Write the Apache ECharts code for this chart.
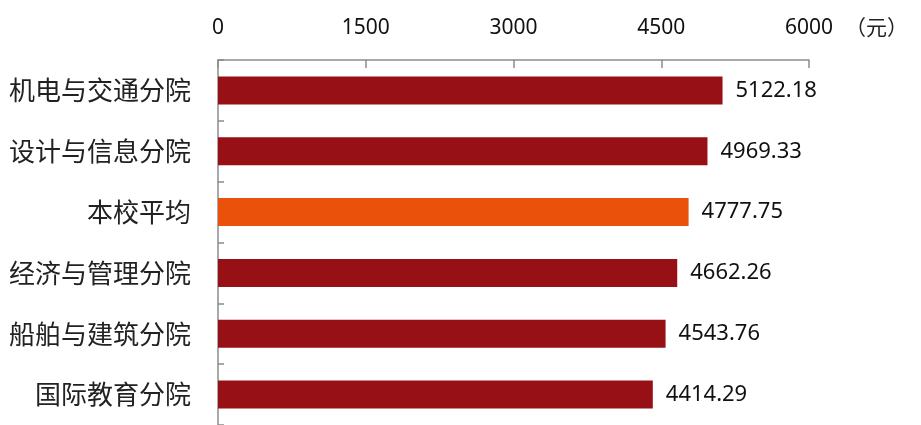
<!DOCTYPE html>
<html>
<head>
<meta charset="utf-8">
<script src="https://cdn.jsdelivr.net/npm/echarts@6/dist/echarts.min.js"></script>
<style>
  html, body { margin: 0; padding: 0; background: #fff; }
  #chart { width: 921px; height: 425px; }
</style>
</head>
<body>
<div id="chart"></div>
<script>
const categories = ['机电与交通分院', '设计与信息分院', '本校平均', '经济与管理分院', '船舶与建筑分院', '国际教育分院']
const values = [5122.18, 4969.33, 4777.75, 4662.26, 4543.76, 4414.29]
const highlight = '本校平均'
const unitLabel = '（元）'

const barColor = '#961015'
const avgColor = '#EA520B'
const axisColor = '#8c8c8c'
const numFont = 'Noto Sans'
const cjkFont = 'Noto Sans CJK SC'

const chart = echarts.init(document.getElementById('chart'))

const seriesData = values.map(function(v, i) {
  return {
    value: v,
    itemStyle: { color: categories[i] === highlight ? avgColor : barColor }
  }
})

chart.setOption({
  animation: false,
  title: {
    text: unitLabel,
    left: 840,
    top: 12,
    textStyle: { fontFamily: cjkFont, fontSize: 21, fontWeight: 'normal', color: '#222' }
  },
  grid: { left: 218, right: 112, top: 60, bottom: 0, containLabel: false },
  xAxis: {
    type: 'value',
    position: 'top',
    min: 0,
    max: 6000,
    interval: 1500,
    axisLine: { show: true, lineStyle: { color: axisColor, width: 1.5 } },
    axisTick: { show: true, inside: true, length: 8, lineStyle: { color: axisColor, width: 1.5 } },
    axisLabel: {
      margin: 21,
      fontFamily: numFont,
      fontSize: 21,
      color: '#111',
      formatter: function(v) { return String(v) }
    },
    splitLine: { show: false }
  },
  yAxis: {
    type: 'category',
    inverse: true,
    data: categories,
    axisLine: { show: true, lineStyle: { color: axisColor, width: 1.5 } },
    axisTick: { show: true, inside: true, length: 6, lineStyle: { color: axisColor, width: 1.5 } },
    axisLabel: { margin: 27, fontFamily: cjkFont, fontSize: 26, color: '#222' }
  },
  series: [
    {
      type: 'bar',
      data: seriesData,
      barWidth: 28,
      label: {
        show: true,
        position: 'right',
        distance: 13,
        fontFamily: numFont,
        fontSize: 22,
        color: '#111',
        formatter: function(p) { return p.value.toFixed(2) }
      }
    }
  ]
})
</script>
</body>
</html>
